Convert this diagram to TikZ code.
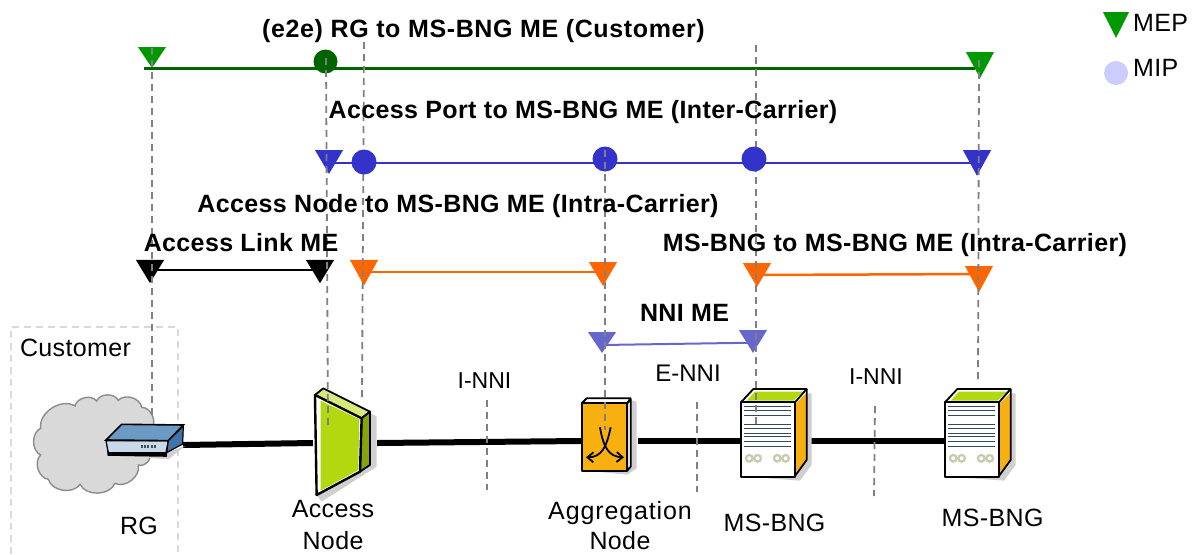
\documentclass[tikz,border=0pt]{standalone}
\usepackage{fontspec}
\setmainfont{Liberation Sans}[LetterSpace=1.5]
\usetikzlibrary{shapes.geometric,arrows.meta}
\definecolor{mepgreen}{HTML}{009900}
\definecolor{megreen}{HTML}{006400}
\definecolor{meblue}{HTML}{3333CC}
\definecolor{meorange}{HTML}{FF6600}
\definecolor{melight}{HTML}{6666CC}
\definecolor{mipleg}{HTML}{CCCCFF}
\definecolor{devgreen}{HTML}{B2D90F}
\definecolor{devorange}{HTML}{F7B00F}
\definecolor{shadowgrey}{HTML}{CFCFCF}
\definecolor{rgfront}{HTML}{C8D9EA}
\definecolor{rgtop}{HTML}{6B9AC4}
\definecolor{rgside}{HTML}{3F74A8}
\definecolor{rackline}{HTML}{34495E}
\definecolor{rackknob}{HTML}{C9C9AE}
\newcommand{\lsp}[1]{\addfontfeature{LetterSpace=#1}}
\tikzset{
  lab/.style={inner sep=0pt,font=\fontsize{25}{30}\selectfont,align=center},
  blab/.style={lab,font=\fontsize{25}{30}\selectfont\bfseries},
  mepnode/.style={regular polygon,regular polygon sides=3,shape border rotate=180,minimum size=32.5pt,inner sep=0pt,draw=none,transform shape},
  mipnode/.style={circle,inner sep=0pt,draw=none},
  devbox/.style={inner sep=0pt,draw=none,fill=none},
  trunk/.style={line width=6pt,black},
  vdash/.style={draw=black!50,line width=1.8pt,dash pattern=on 7pt off 5pt},
  devline/.style={draw=black,line width=1.8pt,line join=round}
}
\newcommand{\bngicon}[1]{%
\begin{scope}[xshift=#1pt+540pt,yshift=-370pt,x=.3333pt,y=-.3333pt]
  \fill[shadowgrey] (620,320)--(780,332)--(815,285)--(815,70)--(800,70)--(765,320)--cycle;
  \fill[white] (603,97)--(640,57)--(800,57)--(765,97)--cycle;
  \fill[devgreen] (620,92)--(645,65)--(790,65)--(760,92)--cycle;
  \fill[devorange] (768,100)--(800,68)--(800,270)--(768,305)--cycle;
  \filldraw[fill=white,devline] (603,97) rectangle (765,320);
  \draw[devline] (603,97)--(640,57)--(800,57)--(765,97);
  \draw[devline] (800,57)--(800,270)--(765,318);
  \foreach \yy in {110,122,135,163,175,190,200,215,228}
    \draw[rackline,line width=.8pt] (612,\yy)--(752,\yy);
  \foreach \xx in {628,653,712,737}
    \draw[rackknob,line width=2.2pt] (\xx,265) circle[radius=10];
\end{scope}}
\newcommand{\dashln}[5]{%
  \coordinate (#1a) at (#2,#3);\coordinate (#1b) at (#4,#5);
  \draw[vdash] (#1a)--(#1b);}
\begin{document}
\begin{tikzpicture}[x=1pt,y=-1pt]
\useasboundingbox (0,0) rectangle (1193,554);
% customer box
\coordinate (cb1) at (11,554);\coordinate (cb2) at (11,327);\coordinate (cb3) at (178,327);\coordinate (cb4) at (178,554);
\draw[draw=black!15,line width=1.2pt,dash pattern=on 7pt off 5pt] (cb1)--(cb2)--(cb3)--(cb4);
% cloud
\begin{scope}[yshift=-320pt,x=.3333pt,y=-.3333pt]
\filldraw[fill=black!15,draw=black!45,line width=1.4pt,bend left=65]
 (122,325) to (225,258) to (290,243) to (355,241) to (425,262) to (455,325)
 to (450,400) to (415,435) to (345,490) to (240,493) to (145,478) to (122,405) to (122,325) -- cycle;
\end{scope}
% placeholders for devices
\node[devbox,minimum width=76pt,minimum height=60pt] (rg) at (145,445) {};
\node[devbox,minimum width=64pt,minimum height=110pt] (an) at (345,443) {};
\node[devbox,minimum width=57pt,minimum height=80pt] (ag) at (609.5,441) {};
\node[devbox,minimum width=70pt,minimum height=90pt] (bnga) at (776,441) {};
\node[devbox,minimum width=70pt,minimum height=90pt] (bngb) at (980,441) {};
\draw[trunk] (rg.east)--(an.west);
\draw[trunk] (an.east)--(ag.west);
\draw[trunk] (ag.east)--(bnga.west);
\draw[trunk] (bnga.east)--(bngb.west);
% RG device
\begin{scope}[yshift=-320pt,x=.3333pt,y=-.3333pt]
 \fill[shadowgrey] (335,405)--(505,418)--(555,378)--(510,395)--cycle;
 \filldraw[fill=black,draw=black,line width=1.6pt] (322,372)--(500,385)--(498,408)--(325,405)--cycle;
 \filldraw[fill=rgfront,draw=black,line width=1.2pt] (318,362)--(505,362)--(498,398)--(325,398)--cycle;
 \filldraw[fill=rgtop,draw=black,line width=1.6pt] (318,360)--(365,313)--(550,315)--(505,362)--cycle;
 \filldraw[fill=rgside,draw=black,line width=1.2pt] (505,362)--(550,318)--(548,372)--(500,398)--cycle;
 \foreach \xx in {422,432,442,452,462} \fill[black!70] (\xx,376) rectangle (\xx+6,384);
\end{scope}
% Access node device
\begin{scope}[yshift=-320pt,x=.3333pt,y=-.3333pt]
 \fill[shadowgrey] (1112,280)--(1130,290)--(1130,440)--(965,545)--(950,525)--cycle;
 \filldraw[fill=devgreen!55!white,devline] (945,225)--(970,205)--(1110,275)--(1085,295)--cycle;
 \filldraw[fill=devgreen!75!black,devline] (1085,295)--(1110,275)--(1110,435)--(1080,455)--cycle;
 \filldraw[fill=white,draw=black,line width=2.4pt,line join=round] (945,225)--(1085,295)--(1080,455)--(950,525)--cycle;
 \fill[devgreen] (962,242)--(1078,298)--(1075,450)--(962,512)--cycle;
\end{scope}
% Aggregation device
\begin{scope}[xshift=540pt,yshift=-370pt,x=.3333pt,y=-.3333pt]
 \fill[shadowgrey] (135,302)--(262,314)--(290,295)--(290,95)--(272,90)--(262,302)--cycle;
 \filldraw[fill=white,devline] (125,100)--(140,85)--(272,85)--(262,100)--cycle;
 \filldraw[fill=white,devline] (262,100)--(272,88)--(272,290)--(262,302)--cycle;
 \filldraw[fill=devorange,devline] (125,100) rectangle (262,302);
 \draw[black,line width=1.8pt,-{Straight Barb[length=6pt,width=10pt]}] (180,172) .. controls (190,230) and (205,260) .. (252,262);
 \draw[black,line width=1.8pt,-{Straight Barb[length=6pt,width=10pt]}] (212,172) .. controls (200,230) and (185,262) .. (138,262);
\end{scope}
% MS-BNG devices
\bngicon{0}
\bngicon{204}
% MEP and MIP nodes
\node[mepnode,fill=mepgreen,yscale=.86] (ga) at (152,54) {};
\node[mepnode,fill=mepgreen,yscale=1.07] (gb) at (980,60.7) {};
\node[mipnode,fill=megreen,minimum size=24pt] (gm) at (325.5,61.5) {};
\node[mepnode,fill=meblue,yscale=.98] (ba) at (329,158) {};
\node[mepnode,fill=meblue,yscale=1.05] (bb) at (977,158.7) {};
\node[mipnode,fill=meblue,minimum size=25pt] (bm2) at (605,159) {};
\node[mepnode,fill=black,yscale=.95] (ka) at (150,267.7) {};
\node[mepnode,fill=black,yscale=.95] (kb) at (320,267.7) {};
\node[mepnode,fill=meorange,yscale=1.05] (oa) at (364,268.5) {};
\node[mepnode,fill=meorange,yscale=.98] (ob) at (603,270) {};
\node[mepnode,fill=meorange,yscale=.98] (oc) at (757,271) {};
\node[mepnode,fill=meorange,yscale=1.07] (od) at (979,274.7) {};
\node[mepnode,fill=melight,yscale=.86] (la) at (602,339) {};
\node[mepnode,fill=melight,yscale=.94] (lb) at (753,337.7) {};
\coordinate (gs) at (144,68);\coordinate (ge) at (975,68);
\draw[megreen,line width=3pt] (gs)--(ge);
\draw[meblue,line width=2.2pt] ([yshift=-5pt]ba.center)--([yshift=-4.3pt]bb.center);
\draw[black,line width=2.2pt] ([yshift=-2.3pt]ka.center)--([yshift=-2.3pt]kb.center);
\draw[meorange,line width=2.5pt] ([yshift=-3.5pt]oa.center)--([yshift=-2pt]ob.center);
\draw[meorange,line width=2.5pt] ([yshift=-4pt]oc.center)--([yshift=.7pt]od.center);
\draw[melight,line width=2pt] ([yshift=-6pt]la.center)--([yshift=-5pt]lb.center);
% legend
\node[mepnode,fill=mepgreen,minimum size=30pt,yscale=1.15] (legtri) at (1116,20.7) {};
\node[mipnode,fill=mipleg,minimum size=24pt] (legcirc) at (1116,73) {};
\node[lab,anchor=west] (legmep) at (1133,23) {MEP};
\node[lab,anchor=west] (legmip) at (1133,68) {MIP};
% dashed drop lines
\dashln{da}{152}{48}{152}{417}
\dashln{db}{326}{58}{328}{427}
\dashln{dc}{364}{42}{362}{400}
\dashln{dd}{605}{150}{605}{430}
\dashln{de}{756}{45}{756}{427}
\dashln{df}{979}{60}{978}{383}
\dashln{dg}{487}{400}{487}{490}
\dashln{dh}{697}{402}{697}{492}
\dashln{di}{875}{406}{874}{496}
% MIPs that lie over their drop lines
\node[mipnode,fill=meblue,minimum size=25pt] (bm1) at (364,162) {};
\node[mipnode,fill=meblue,minimum size=25pt] (bm3) at (754,159) {};
% labels
\node[blab] (t1) at (483.5,31) {\lsp{2.5}(e2e) RG to MS-BNG ME (Customer)};
\node[blab] (t2) at (583,112) {Access Port to MS-BNG ME (Inter-Carrier)};
\node[blab] (t3) at (458,206) {Access Node to MS-BNG ME (Intra-Carrier)};
\node[blab] (t4) at (241,243) {Access Link ME};
\node[blab] (t5) at (895,245) {MS-BNG to MS-BNG ME (Intra-Carrier)};
\node[blab] (t6) at (684.5,313) {NNI ME};
\node[lab] (l1) at (75.5,348) {Customer};
\node[lab,font=\fontsize{23}{28}\selectfont] (l2) at (484.5,381) {\lsp{0}I-NNI};
\node[lab,font=\fontsize{24}{28}\selectfont] (l3) at (688,373) {\lsp{0}E-NNI};
\node[lab,font=\fontsize{23}{28}\selectfont] (l4) at (876,377) {\lsp{0}I-NNI};
\node[lab] (l5) at (139,526) {RG};
\node[lab,font=\fontsize{25}{32}\selectfont] (l6) at (333,525) {Access\\Node};
\node[lab,font=\fontsize{25}{30}\selectfont] (l7) at (620,526) {\lsp{3.5}Aggregation\\\lsp{1.5}Node};
\node[lab] (l8) at (774.5,523) {MS-BNG};
\node[lab] (l9) at (992.5,518) {MS-BNG};
\end{tikzpicture}
\end{document}
